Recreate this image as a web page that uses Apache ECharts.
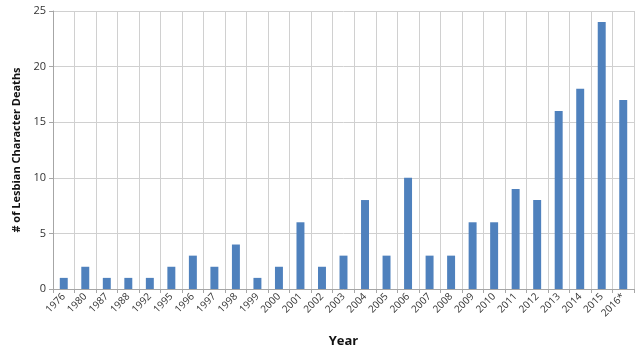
<!DOCTYPE html>
<html lang="en">
<head>
    <meta charset="utf-8">
    <title>Lesbian Character Deaths</title>
    <script src="https://cdn.jsdelivr.net/npm/echarts@6/dist/echarts.min.js"></script>
    <style>
        html, body { margin: 0; padding: 0; background: #fff; }
        #chart { width: 640px; height: 355px; }
    </style>
</head>
<body>
<div id="chart"></div>
<script>
    var years = ['1976', '1980', '1987', '1988', '1992', '1995', '1996', '1997', '1998', '1999',
        '2000', '2001', '2002', '2003', '2004', '2005', '2006', '2007', '2008', '2009',
        '2010', '2011', '2012', '2013', '2014', '2015', '2016*'];
    var deaths = [1, 2, 1, 1, 1, 2, 3, 2, 4, 1, 2, 6, 2, 3, 8, 3, 10, 3, 3, 6, 6, 9, 8, 16, 18, 24, 17];
    var yTicks = [0, 5, 10, 15, 20, 25];

    var myChart = echarts.init(document.getElementById('chart'));
    var font = 'Open Sans';

    var option = {
        animation: false,
        grid: { left: 53, right: 6, top: 11, bottom: 66 },
        xAxis: {
            type: 'category',
            data: years,
            name: 'Year',
            nameLocation: 'middle',
            nameGap: 46,
            nameTextStyle: { fontFamily: font, fontSize: 13, fontWeight: 'bold', color: '#111' },
            axisLine: { lineStyle: { color: '#a6a6a6' } },
            axisTick: { show: true, length: 4, lineStyle: { color: '#a6a6a6' } },
            splitLine: { show: true, lineStyle: { color: '#d0d0d0' } },
            axisLabel: {
                interval: 0, rotate: 45, fontFamily: font, fontSize: 10, color: '#333', margin: 6
            }
        },
        yAxis: {
            type: 'value',
            min: yTicks[0],
            max: yTicks[yTicks.length - 1],
            interval: 5,
            name: '# of Lesbian Character Deaths',
            nameLocation: 'middle',
            nameGap: 28,
            nameTextStyle: { fontFamily: font, fontSize: 11, fontWeight: 'bold', color: '#111' },
            axisLine: { show: true, lineStyle: { color: '#a6a6a6' } },
            axisTick: { show: true, length: 4, lineStyle: { color: '#a6a6a6' } },
            splitLine: { lineStyle: { color: '#d0d0d0' } },
            axisLabel: { fontFamily: font, fontSize: 11, color: '#333', margin: 7 }
        },
        series: [{
            type: 'bar',
            data: deaths,
            barWidth: '37%',
            itemStyle: { color: '#4f81bd' }
        }]
    };
    myChart.setOption(option);
</script>
</body>
</html>
